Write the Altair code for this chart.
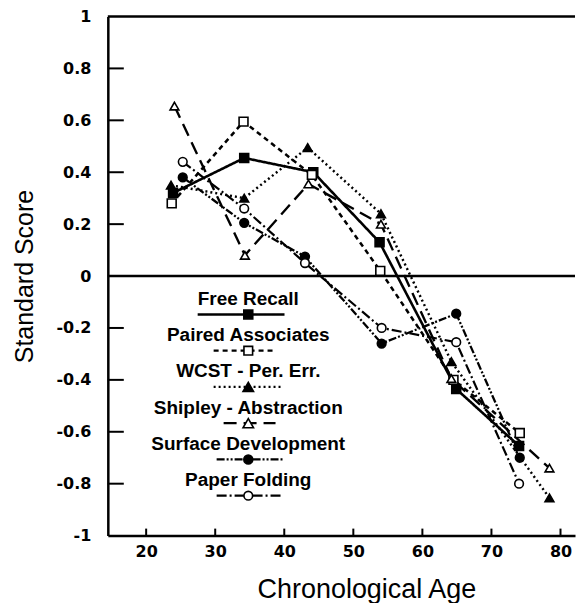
import altair as alt
import pandas as pd

# ---------------- data ----------------
series_names = ["Free Recall", "Paired Associates", "WCST - Per. Err.",
                "Shipley - Abstraction", "Surface Development", "Paper Folding"]

free_recall_age = [23.9, 34.2, 44.2, 53.8, 64.9, 74.0]
free_recall_score = [0.32, 0.455, 0.40, 0.13, -0.435, -0.655]

paired_age = [23.7, 34.1, 44.0, 53.9, 64.5, 74.1]
paired_score = [0.28, 0.595, 0.39, 0.02, -0.40, -0.605]

wcst_age = [23.6, 34.2, 43.4, 54.0, 64.2, 78.4]
wcst_score = [0.35, 0.30, 0.495, 0.24, -0.33, -0.855]

shipley_age = [24.1, 34.3, 43.5, 54.0, 64.2, 78.4]
shipley_score = [0.655, 0.08, 0.355, 0.20, -0.395, -0.74]

surface_age = [25.3, 34.2, 43.0, 54.1, 64.9, 74.1]
surface_score = [0.38, 0.205, 0.075, -0.26, -0.145, -0.70]

paper_age = [25.3, 34.2, 43.0, 54.1, 64.9, 74.0]
paper_score = [0.44, 0.26, 0.05, -0.20, -0.255, -0.80]

x_ticks = [20, 30, 40, 50, 60, 70, 80]
y_ticks = [-1, -0.8, -0.6, -0.4, -0.2, 0, 0.2, 0.4, 0.6, 0.8, 1]
y_inner_ticks = [-0.8, -0.6, -0.4, -0.2, 0.2, 0.4, 0.6, 0.8]
ref_lines = [0, 1]

# ---------------- styles ----------------
dashes = [[1, 0], [5, 4], [2, 3], [13, 7], [8, 2, 2, 2, 2, 2], [10, 3, 2, 3]]
shapes = ["square", "square", "triangle-up", "triangle-up", "circle", "circle"]
fills = ["black", "white", "black", "white", "black", "white"]
sizes = [80, 75, 110, 110, 80, 75]
widths = [2.6, 2.2, 2.2, 2.2, 2.2, 2.2]

ages = [free_recall_age, paired_age, wcst_age, shipley_age, surface_age, paper_age]
scores = [free_recall_score, paired_score, wcst_score, shipley_score, surface_score, paper_score]

rows = []
for name, a_list, s_list in zip(series_names, ages, scores):
    for a, s in zip(a_list, s_list):
        rows.append({"series": name, "age": a, "score": s})
df = pd.DataFrame(rows)

W, H = 468, 520

xscale = alt.Scale(domain=[14.45, 82.1], nice=False, zero=False)
yscale = alt.Scale(domain=[-1, 1], nice=False, zero=False)

xaxis = alt.Axis(values=x_ticks, tickSize=0, grid=False, domainWidth=2.5, domainColor="black",
                 labelFont="DejaVu Sans", labelFontWeight="bold", labelFontSize=16,
                 labelColor="black", labelPadding=8, labelFlush=False, labelOverlap=False,
                 titleFont="Liberation Sans", titleFontSize=27, titleFontWeight="normal",
                 titleColor="black", titlePadding=17, titleX=259, titleAlign="center")
yaxis = alt.Axis(values=y_ticks, tickSize=0, grid=False, domainWidth=2.5, domainColor="black",
                 labelFont="DejaVu Sans", labelFontWeight="bold", labelFontSize=16,
                 labelColor="black", labelPadding=17, labelFlush=False, labelOverlap=False,
                 labelExpr="(datum.value < 0 ? '-' : '') + format(abs(datum.value), '~g')",
                 titleFont="Liberation Sans", titleFontSize=25, titleFontWeight="normal",
                 titleColor="black", titlePadding=18)

X = alt.X("age:Q", scale=xscale, axis=xaxis, title="Chronological Age")
Y = alt.Y("score:Q", scale=yscale, axis=yaxis, title="Standard Score")

lines = alt.Chart(df).mark_line(color="black").encode(
    x=X, y=Y,
    detail="series:N",
    strokeDash=alt.StrokeDash("series:N", scale=alt.Scale(domain=series_names, range=dashes), legend=None),
    strokeWidth=alt.StrokeWidth("series:N", scale=alt.Scale(domain=series_names, range=widths), legend=None),
)

points = alt.Chart(df).mark_point(filled=True, stroke="black", strokeWidth=1.6, opacity=1).encode(
    x=X, y=Y,
    shape=alt.Shape("series:N", scale=alt.Scale(domain=series_names, range=shapes), legend=None),
    fill=alt.Fill("series:N", scale=alt.Scale(domain=series_names, range=fills), legend=None),
    size=alt.Size("series:N", scale=alt.Scale(domain=series_names, range=sizes), legend=None),
)

hlines = alt.Chart(pd.DataFrame({"score": ref_lines})).mark_rule(color="black", strokeWidth=2.5).encode(y=Y)

ytick_marks = alt.Chart(pd.DataFrame({"score": y_inner_ticks})).mark_rule(color="black", strokeWidth=2).encode(
    y=Y, x=alt.value(0), x2=alt.value(16))

xtick_marks = alt.Chart(pd.DataFrame({"age": x_ticks})).mark_rule(color="black", strokeWidth=2).encode(
    x=X, y=alt.value(H), y2=alt.value(H - 7))

# ---------------- hand-made legend inside the plot ----------------
legend_layers = []
line_ext = [(90, 177), (106, 169), (106, 173), (116, 168), (109, 176), (109, 176)]
cx = 140.7
for i, name in enumerate(series_names):
    ty = 283 + i * 36.3
    sy = ty + 15.5
    one = pd.DataFrame({"name": [name]})
    legend_layers.append(
        alt.Chart(one).mark_text(font="Liberation Sans", fontWeight="bold", fontSize=19,
                                 align="center", baseline="middle", color="black").encode(
            x=alt.value(cx), y=alt.value(ty), text="name:N"))
    legend_layers.append(
        alt.Chart(one).mark_rule(color="black", strokeWidth=widths[i], strokeDash=dashes[i]).encode(
            x=alt.value(line_ext[i][0]), x2=alt.value(line_ext[i][1]), y=alt.value(sy)))
    legend_layers.append(
        alt.Chart(one).mark_point(shape=shapes[i], filled=True, fill=fills[i], stroke="black",
                                  strokeWidth=1.6, size=sizes[i], opacity=1).encode(
            x=alt.value(cx), y=alt.value(sy)))

chart = alt.layer(hlines, ytick_marks, xtick_marks, lines, points, *legend_layers).properties(
    width=W, height=H,
    padding={"left": 5, "top": 0, "right": 0, "bottom": 0},
).configure_view(stroke=None)

chart.save("out.html", embed_options={"renderer": "svg", "actions": False})
